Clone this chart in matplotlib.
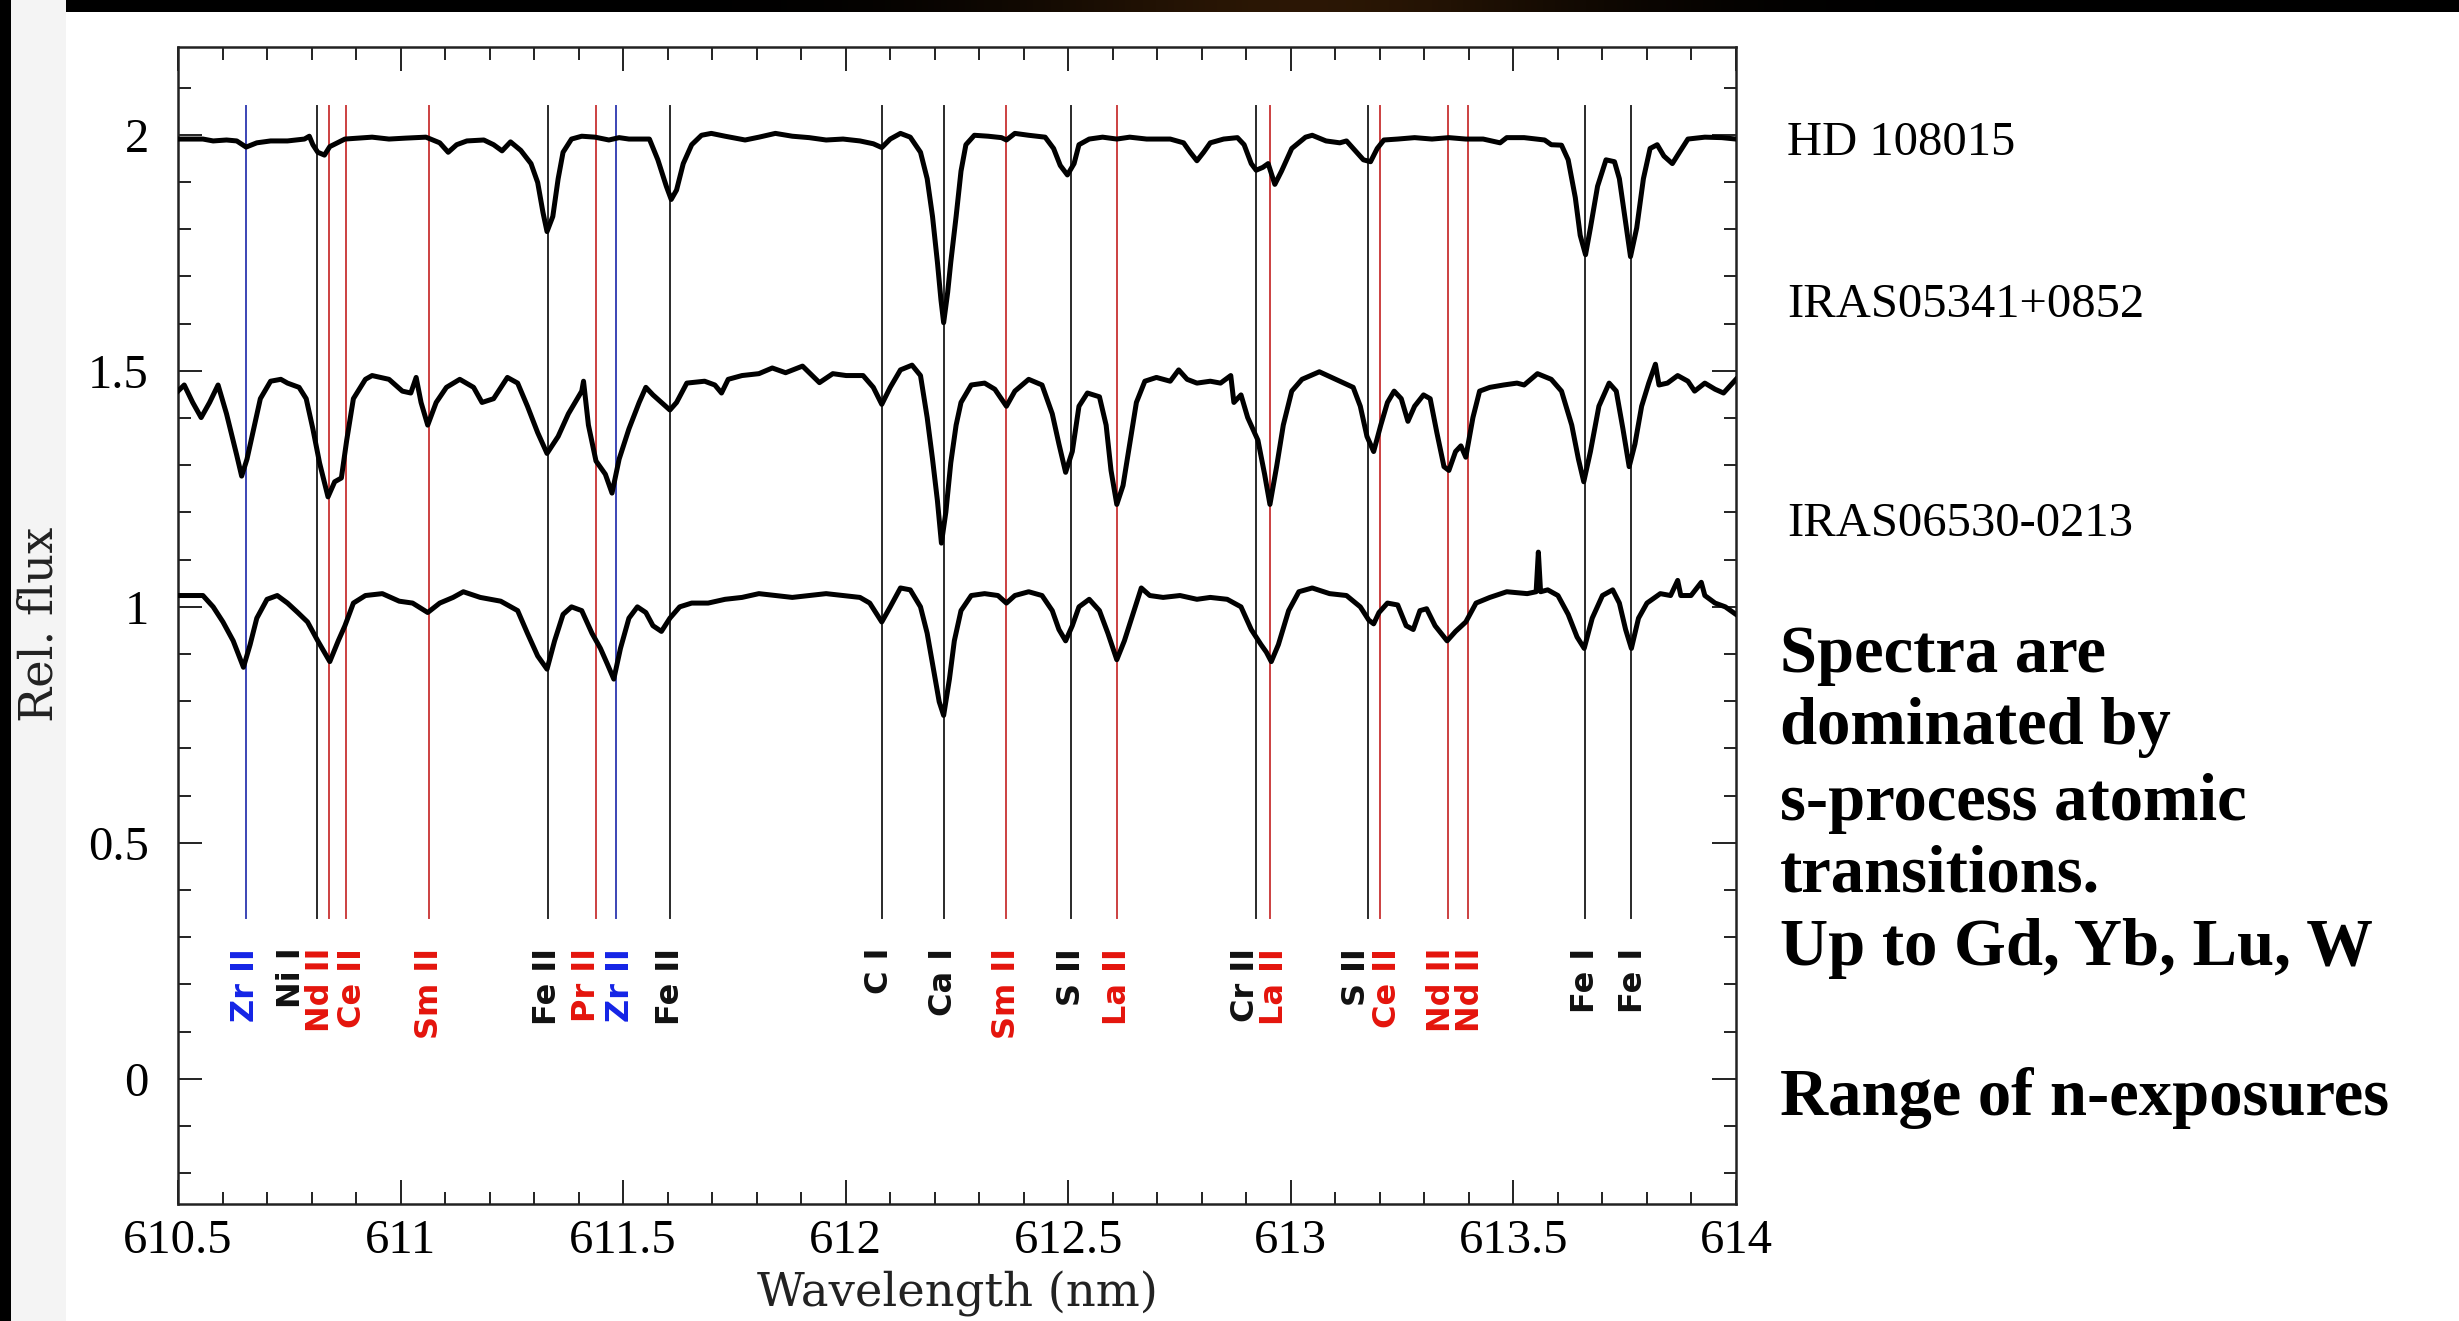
import matplotlib
matplotlib.use("Agg")
import matplotlib.pyplot as plt
from matplotlib.ticker import MultipleLocator
from matplotlib.patches import Rectangle
import numpy as np

# ---------------- data ----------------
star_names = ["HD 108015", "IRAS05341+0852", "IRAS06530-0213"]

wl_hd = [610.500, 610.556, 610.579, 610.609, 610.632, 610.653, 610.677, 610.708, 610.746, 610.784,
         610.795, 610.803, 610.814, 610.829, 610.841, 610.875, 610.905, 610.936, 610.974, 611.012,
         611.057, 611.088, 611.107, 611.126, 611.149, 611.187, 611.209, 611.228, 611.247, 611.270,
         611.293, 611.308, 611.320, 611.329, 611.342, 611.354, 611.365, 611.384, 611.407, 611.437,
         611.468, 611.491, 611.513, 611.559, 611.578, 611.597, 611.608, 611.620, 611.635, 611.654,
         611.676, 611.698, 611.729, 611.774, 611.805, 611.842, 611.880, 611.918, 611.956, 611.994,
         612.032, 612.062, 612.081, 612.100, 612.123, 612.145, 612.168, 612.183, 612.195, 612.206,
         612.214, 612.220, 612.229, 612.236, 612.248, 612.259, 612.270, 612.289, 612.320, 612.350,
         612.361, 612.380, 612.411, 612.448, 612.467, 612.482, 612.498, 612.513, 612.524, 612.547,
         612.577, 612.609, 612.638, 612.676, 612.729, 612.759, 612.774, 612.789, 612.804, 612.819,
         612.849, 612.880, 612.895, 612.911, 612.922, 612.937, 612.949, 612.964, 612.979, 613.002,
         613.033, 613.048, 613.079, 613.110, 613.125, 613.148, 613.163, 613.179, 613.194, 613.209,
         613.240, 613.278, 613.317, 613.355, 613.393, 613.432, 613.470, 613.485, 613.524, 613.570,
         613.585, 613.608, 613.623, 613.639, 613.650, 613.662, 613.673, 613.689, 613.708, 613.727,
         613.738, 613.750, 613.763, 613.777, 613.792, 613.807, 613.823, 613.838, 613.857, 613.873,
         613.892, 613.930, 613.968, 614.000]
fx_hd = [1.991, 1.991, 1.987, 1.989, 1.987, 1.974, 1.983, 1.987, 1.987, 1.991,
         1.997, 1.979, 1.963, 1.957, 1.975, 1.991, 1.993, 1.995, 1.991, 1.993,
         1.995, 1.983, 1.963, 1.979, 1.987, 1.989, 1.979, 1.966, 1.985, 1.967,
         1.939, 1.899, 1.835, 1.795, 1.827, 1.907, 1.963, 1.991, 1.997, 1.995,
         1.989, 1.994, 1.991, 1.991, 1.947, 1.891, 1.863, 1.883, 1.939, 1.979,
         1.999, 2.003, 1.997, 1.989, 1.995, 2.003, 1.997, 1.994, 1.989, 1.991,
         1.987, 1.981, 1.973, 1.991, 2.003, 1.995, 1.963, 1.907, 1.827, 1.730,
         1.650, 1.602, 1.666, 1.730, 1.827, 1.923, 1.979, 1.999, 1.997, 1.994,
         1.989, 2.003, 1.999, 1.995, 1.971, 1.935, 1.915, 1.939, 1.979, 1.991,
         1.995, 1.991, 1.995, 1.991, 1.991, 1.983, 1.963, 1.945, 1.963, 1.983,
         1.991, 1.994, 1.979, 1.939, 1.925, 1.931, 1.939, 1.895, 1.923, 1.971,
         1.995, 1.999, 1.987, 1.983, 1.987, 1.963, 1.947, 1.943, 1.971, 1.989,
         1.991, 1.994, 1.991, 1.994, 1.991, 1.991, 1.983, 1.994, 1.994, 1.989,
         1.979, 1.978, 1.947, 1.867, 1.787, 1.746, 1.803, 1.891, 1.947, 1.943,
         1.907, 1.827, 1.742, 1.803, 1.907, 1.971, 1.979, 1.955, 1.939, 1.963,
         1.991, 1.995, 1.994, 1.991]

wl_i05 = [610.500, 610.514, 610.533, 610.552, 610.571, 610.590, 610.609, 610.632, 610.643, 610.655,
          610.670, 610.685, 610.708, 610.731, 610.746, 610.772, 610.788, 610.803, 610.818, 610.837,
          610.852, 610.867, 610.879, 610.894, 610.921, 610.936, 610.974, 611.004, 611.023, 611.035,
          611.046, 611.061, 611.080, 611.103, 611.133, 611.164, 611.183, 611.209, 611.240, 611.263,
          611.285, 611.308, 611.329, 611.354, 611.377, 611.407, 611.411, 611.422, 611.439, 611.460,
          611.475, 611.491, 611.513, 611.536, 611.551, 611.567, 611.586, 611.605, 611.620, 611.643,
          611.683, 611.706, 611.721, 611.736, 611.767, 611.805, 611.835, 611.865, 611.903, 611.941,
          611.971, 612.001, 612.039, 612.062, 612.081, 612.100, 612.123, 612.149, 612.168, 612.183,
          612.195, 612.206, 612.215, 612.225, 612.236, 612.248, 612.259, 612.282, 612.312, 612.335,
          612.361, 612.380, 612.411, 612.441, 612.464, 612.479, 612.494, 612.509, 612.524, 612.543,
          612.570, 612.585, 612.596, 612.609, 612.623, 612.638, 612.653, 612.672, 612.698, 612.729,
          612.748, 612.767, 612.789, 612.819,
          612.842, 612.865, 612.872, 612.888, 612.903, 612.926, 612.941, 612.953, 612.968, 612.983,
          613.002, 613.025, 613.064, 613.110, 613.140, 613.156, 613.171, 613.186, 613.202, 613.217,
          613.232, 613.248, 613.263, 613.278, 613.298, 613.313, 613.328, 613.344, 613.355, 613.370,
          613.382, 613.393, 613.409, 613.424, 613.447, 613.478, 613.508, 613.524, 613.554, 613.585,
          613.608, 613.631, 613.646, 613.658, 613.673, 613.692, 613.715, 613.731, 613.746, 613.760,
          613.773, 613.788, 613.804, 613.819, 613.827, 613.846, 613.869, 613.892, 613.907, 613.930,
          613.953, 613.972, 614.000]
fx_i05 = [1.457, 1.470, 1.433, 1.401, 1.433, 1.470, 1.409, 1.321, 1.277, 1.313,
          1.377, 1.441, 1.478, 1.482, 1.474, 1.465, 1.441, 1.377, 1.305, 1.233,
          1.265, 1.273, 1.353, 1.441, 1.482, 1.490, 1.482, 1.457, 1.453, 1.486,
          1.433, 1.385, 1.433, 1.465, 1.482, 1.465, 1.433, 1.441, 1.486, 1.474,
          1.425, 1.369, 1.325, 1.361, 1.409, 1.457, 1.478, 1.385, 1.309, 1.281,
          1.241, 1.313, 1.377, 1.433, 1.465, 1.449, 1.433, 1.417, 1.433, 1.474,
          1.478, 1.470, 1.453, 1.482, 1.490, 1.494, 1.506, 1.496, 1.510, 1.475,
          1.494, 1.490, 1.490, 1.465, 1.429, 1.465, 1.502, 1.512, 1.490, 1.401,
          1.313, 1.225, 1.135, 1.201, 1.305, 1.385, 1.433, 1.470, 1.474, 1.461,
          1.425, 1.457, 1.482, 1.470, 1.409, 1.345, 1.285, 1.329, 1.425, 1.453,
          1.445, 1.385, 1.289, 1.217, 1.257, 1.345, 1.433, 1.478, 1.486, 1.478,
          1.502, 1.482, 1.474, 1.478,
          1.474, 1.490, 1.433, 1.449, 1.401, 1.353, 1.281, 1.217, 1.297, 1.385,
          1.457, 1.482, 1.498, 1.478, 1.465, 1.425, 1.361, 1.329, 1.385, 1.433,
          1.457, 1.441, 1.393, 1.425, 1.449, 1.441, 1.369, 1.297, 1.289, 1.329,
          1.341, 1.317, 1.401, 1.457, 1.465, 1.470, 1.474, 1.470, 1.494, 1.482,
          1.457, 1.385, 1.313, 1.265, 1.329, 1.425, 1.474, 1.457, 1.377, 1.297,
          1.345, 1.425, 1.474, 1.514, 1.470, 1.474, 1.490, 1.478, 1.457, 1.474,
          1.461, 1.453, 1.482]

wl_i06 = [610.500, 610.525, 610.556, 610.579, 610.601, 610.624, 610.647, 610.662, 610.677, 610.700,
          610.723, 610.746, 610.769, 610.791, 610.814, 610.841, 610.860, 610.875, 610.894, 610.921,
          610.959, 610.997, 611.027, 611.061, 611.088, 611.118, 611.141, 611.179, 611.225, 611.263,
          611.285, 611.308, 611.329, 611.346, 611.365, 611.384, 611.407, 611.430, 611.449, 611.464,
          611.479, 611.494, 611.513, 611.532, 611.551, 611.567, 611.586, 611.605, 611.627, 611.654,
          611.691, 611.729, 611.767, 611.805, 611.842, 611.880, 611.918, 611.956, 611.994, 612.032,
          612.054, 612.081, 612.100, 612.123, 612.145, 612.168, 612.183, 612.198, 612.210, 612.220,
          612.233, 612.244, 612.259, 612.282, 612.312, 612.342, 612.361, 612.380, 612.411, 612.441,
          612.464, 612.479, 612.494, 612.509, 612.524, 612.547, 612.570, 612.589, 612.609, 612.626,
          612.645, 612.664, 612.683, 612.713, 612.751, 612.789, 612.819,
          612.857, 612.888, 612.911, 612.933, 612.945, 612.956, 612.972, 612.995, 613.018, 613.048,
          613.087, 613.125, 613.156, 613.175, 613.186, 613.198, 613.217, 613.240, 613.259, 613.275,
          613.290, 613.305, 613.324, 613.351, 613.370, 613.393, 613.416, 613.447, 613.485, 613.531,
          613.551, 613.556, 613.561, 613.577, 613.600, 613.623, 613.643, 613.659, 613.677, 613.700,
          613.723, 613.738, 613.752, 613.765, 613.781, 613.800, 613.830, 613.853, 613.869, 613.876,
          613.899, 613.922, 613.930, 613.953, 613.976, 614.000]
fx_i06 = [1.024, 1.024, 1.024, 1.000, 0.968, 0.928, 0.872, 0.920, 0.976, 1.016,
          1.024, 1.008, 0.988, 0.968, 0.928, 0.884, 0.928, 0.960, 1.008, 1.024,
          1.028, 1.012, 1.008, 0.988, 1.008, 1.020, 1.032, 1.020, 1.012, 0.992,
          0.944, 0.896, 0.868, 0.928, 0.984, 1.000, 0.992, 0.944, 0.912, 0.880,
          0.847, 0.912, 0.976, 1.000, 0.988, 0.960, 0.948, 0.976, 1.000, 1.008,
          1.008, 1.016, 1.020, 1.028, 1.024, 1.020, 1.024, 1.028, 1.024, 1.020,
          1.008, 0.968, 1.000, 1.040, 1.036, 1.000, 0.944, 0.864, 0.799, 0.770,
          0.847, 0.928, 0.992, 1.024, 1.028, 1.024, 1.008, 1.024, 1.032, 1.024,
          0.992, 0.952, 0.928, 0.960, 1.000, 1.016, 0.992, 0.944, 0.888, 0.928,
          0.984, 1.040, 1.024, 1.020, 1.024, 1.016, 1.020,
          1.016, 1.000, 0.952, 0.920, 0.904, 0.884, 0.920, 0.992, 1.032, 1.040,
          1.028, 1.024, 1.000, 0.972, 0.964, 0.988, 1.008, 1.004, 0.960, 0.952,
          0.992, 0.996, 0.960, 0.928, 0.948, 0.968, 1.008, 1.020, 1.032, 1.028,
          1.032, 1.116, 1.032, 1.036, 1.024, 0.984, 0.936, 0.912, 0.976, 1.024,
          1.036, 1.008, 0.952, 0.912, 0.976, 1.008, 1.028, 1.024, 1.056, 1.024,
          1.024, 1.052, 1.024, 1.008, 1.000, 0.984]

# identified transitions
line_wl = [610.653, 610.812, 610.839, 610.877, 611.064, 611.331, 611.440, 611.483, 611.605,
           612.081, 612.221, 612.360, 612.507, 612.609, 612.922, 612.953, 613.174, 613.201,
           613.354, 613.399, 613.661, 613.763]
line_ion = ["Zr II", "Ni I", "Nd II", "Ce II", "Sm II", "Fe II", "Pr II", "Zr II", "Fe II",
            "C I", "Ca I", "Sm II", "S II", "La II", "Cr II", "La II", "S II", "Ce II",
            "Nd II", "Nd II", "Fe I", "Fe I"]
line_group = ["b", "k", "r", "r", "r", "k", "r", "b", "k",
              "k", "k", "r", "k", "r", "k", "r", "k", "r",
              "r", "r", "k", "k"]
label_wl = [610.652, 610.755, 610.820, 610.893, 611.065, 611.331, 611.418, 611.495, 611.607,
            612.075, 612.219, 612.361, 612.507, 612.611, 612.897, 612.964, 613.148, 613.217,
            613.338, 613.404, 613.661, 613.769]

x_ticks = [610.5, 611, 611.5, 612, 612.5, 613, 613.5, 614]
x_tick_labels = ["610.5", "611", "611.5", "612", "612.5", "613", "613.5", "614"]
y_ticks = [0, 0.5, 1, 1.5, 2]
y_tick_labels = ["0", "0.5", "1", "1.5", "2"]

notes = ["Spectra are", "dominated by", "s-process atomic", "transitions.",
         "Up to Gd, Yb, Lu, W", "Range of n-exposures"]

# ---------------- figure ----------------
W, H = 2459, 1321
fig = plt.figure(figsize=(W / 100, H / 100), dpi=100, facecolor="white")

def fx(px):
    return px / W

def fy(py):
    return 1 - py / H

# slide background pieces
fig.patches.append(Rectangle((fx(11), 0), fx(55), 1, transform=fig.transFigure,
                             facecolor="#f4f4f4", edgecolor="none", zorder=0))
fig.patches.append(Rectangle((0, 0), fx(11), 1, transform=fig.transFigure,
                             facecolor="black", edgecolor="none", zorder=0))
band = fig.add_axes([0, fy(12), 1, 12 / H])
g = np.linspace(0, 1, 400)
glow = np.exp(-((g - 0.53) / 0.12) ** 2)
img = np.zeros((1, 400, 3))
img[0, :, 0] = 0.17 * glow
img[0, :, 1] = 0.09 * glow
img[0, :, 2] = 0.02 * glow
band.imshow(img, aspect="auto", extent=[0, 1, 0, 1])
band.set_axis_off()

# main axes
x0, x1, y0, y1 = 178, 1736, 47, 1204
ax = fig.add_axes([fx(x0), fy(y1), (x1 - x0) / W, (y1 - y0) / H])
ax.set_xlim(610.5, 614.0)
ax.set_ylim(-0.265, 2.186)

col_line = {"k": "#2a2a2a", "r": "#cc4040", "b": "#3b45b5"}
col_text = {"k": "#111111", "r": "#e4140c", "b": "#1424e6"}

for wl, grp in zip(line_wl, line_group):
    ax.plot([wl, wl], [0.34, 2.06], color=col_line[grp], lw=1.4, zorder=2)

for wl, ion, grp in zip(label_wl, line_ion, line_group):
    ax.text(wl, 0.278, ion, rotation=90, ha="center", va="top",
            fontsize=23, fontweight="bold", family="DejaVu Sans",
            color=col_text[grp], zorder=3)

for wl, fl in [(wl_hd, fx_hd), (wl_i05, fx_i05), (wl_i06, fx_i06)]:
    ax.plot(wl, fl, color="black", lw=3.6, solid_joinstyle="round", zorder=4)

ax.xaxis.set_minor_locator(MultipleLocator(0.1))
ax.yaxis.set_minor_locator(MultipleLocator(0.1))
ax.set_xticks(x_ticks, labels=x_tick_labels, fontfamily="Liberation Serif", fontsize=35)
ax.set_yticks(y_ticks, labels=y_tick_labels, fontfamily="Liberation Serif", fontsize=35)
ax.tick_params(which="both", direction="in", top=True, right=True, width=1.4, color="#222222")
ax.tick_params(which="major", length=17)
ax.tick_params(which="minor", length=9)
ax.tick_params(axis="x", pad=11)
ax.tick_params(axis="y", pad=21)
for s in ax.spines.values():
    s.set_linewidth(1.8)
    s.set_color("#222222")

fig.text(fx(957), fy(1294), "Wavelength (nm)", ha="center", va="center",
         fontsize=33.5, family="DejaVu Serif", color="#222222")
fig.text(fx(40), fy(624), "Rel. flux", ha="center", va="center", rotation=90,
         fontsize=33.5, family="DejaVu Serif", color="#222222")

# star names
for name, base in zip(star_names, [155, 317, 536]):
    fig.text(fx(1787), fy(base), name, ha="left", va="baseline",
             fontsize=35, family="Liberation Serif", color="black")

# notes
for note, base in zip(notes, [672, 744, 820, 892, 965, 1115]):
    fig.text(fx(1780), fy(base), note, ha="left", va="baseline",
             fontsize=48, family="Liberation Serif", fontweight="bold", color="black")

fig.savefig("out.png", dpi=100, facecolor=fig.get_facecolor())
